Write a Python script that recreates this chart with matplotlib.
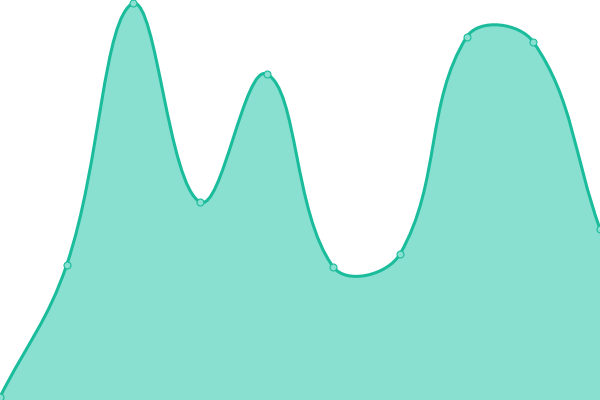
import numpy as np
import matplotlib
matplotlib.use("Agg")
from matplotlib import pyplot as plt
from matplotlib.path import Path
from matplotlib.patches import PathPatch

# values (y scale 0..400, 10 evenly spaced points)
labels = list(range(10))
values = [3, 135, 397, 198, 326, 133, 146, 363, 358, 171]

line_color = "#1abc9c"
fill_color = "#8ae0d0"
tension = 0.4
y_max = 400


def spline_controls(px, py, t):
    # smooth bezier control points, same idea as the chart.js spline
    n = len(px)
    c1 = []
    c2 = []
    for i in range(n):
        p0 = (px[max(i - 1, 0)], py[max(i - 1, 0)])
        p1 = (px[i], py[i])
        p2 = (px[min(i + 1, n - 1)], py[min(i + 1, n - 1)])
        d01 = np.hypot(p1[0] - p0[0], p1[1] - p0[1])
        d12 = np.hypot(p2[0] - p1[0], p2[1] - p1[1])
        s = d01 + d12
        fa = t * d01 / s if s else 0
        fb = t * d12 / s if s else 0
        c1.append((p1[0] - fa * (p2[0] - p0[0]), p1[1] - fa * (p2[1] - p0[1])))
        c2.append((p1[0] + fb * (p2[0] - p0[0]), p1[1] + fb * (p2[1] - p0[1])))
    return c1, c2


fig = plt.figure(figsize=(6, 4), dpi=100)
ax = fig.add_axes([0, 0, 1, 1])
ax.set_xlim(0, len(labels) - 1)
ax.set_ylim(0, y_max)
ax.axis("off")

# work in pixel space so the tension behaves the same way
sx = 600 / (len(labels) - 1)
sy = 400 / y_max
px = [x * sx for x in labels]
py = [v * sy for v in values]
c1, c2 = spline_controls(px, py, tension)
c1 = [(np.clip(a, 0, 600) / sx, np.clip(b, 0, 400) / sy) for a, b in c1]
c2 = [(np.clip(a, 0, 600) / sx, np.clip(b, 0, 400) / sy) for a, b in c2]

verts = [(labels[0], values[0])]
codes = [Path.MOVETO]
for i in range(len(labels) - 1):
    verts += [c2[i], c1[i + 1], (labels[i + 1], values[i + 1])]
    codes += [Path.CURVE4] * 3

fill_verts = verts + [(labels[-1], 0), (labels[0], 0), (labels[0], values[0])]
fill_codes = codes + [Path.LINETO, Path.LINETO, Path.CLOSEPOLY]
ax.add_patch(PathPatch(Path(fill_verts, fill_codes), facecolor=fill_color, edgecolor="none"))
ax.add_patch(PathPatch(Path(verts, codes), facecolor="none", edgecolor=line_color, lw=2.2))

ax.plot(labels, values, linestyle="none", marker="o", markersize=5,
        markerfacecolor=fill_color, markeredgecolor=line_color, markeredgewidth=0.8,
        clip_on=False)

plt.savefig("out.png", dpi=100)
